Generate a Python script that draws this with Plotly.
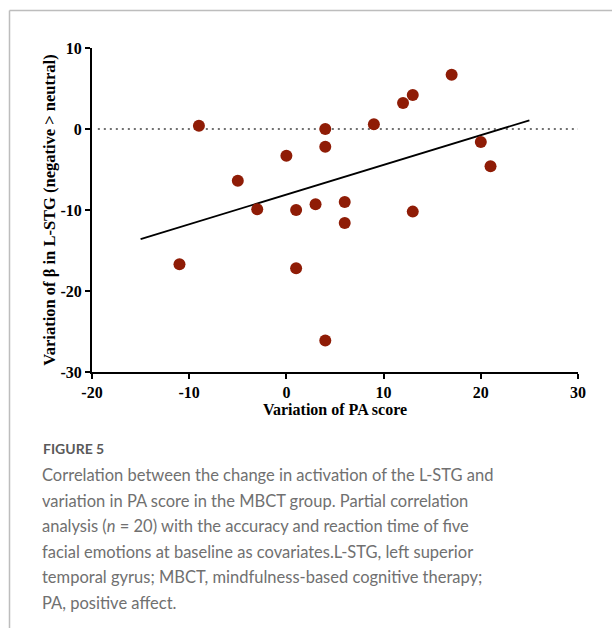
import plotly.graph_objects as go

# Data
pa_change = [-9, -5, -3, 0, 1, 3, 4, 4, 9, 12, 13, 17, 20, 21, 6, 13, 6, -11, 1, 4]
beta_change = [0.4, -6.4, -9.9, -3.3, -10.0, -9.3, 0.0, -2.2, 0.6, 3.2, 4.2, 6.7,
               -1.6, -4.6, -9.0, -10.2, -11.6, -16.7, -17.2, -26.1]
fit_x = [-15, 25]
fit_y = [-13.6, 1.07]
ref_x = [-19.4, 30]
ref_y = [0, 0]
x_ticks = [-20, -10, 0, 10, 20, 30]
x_ticktext = ["-20", "-10", "0", "10", "20", "30"]
y_ticks = [-30, -20, -10, 0, 10]
y_ticktext = ["-30", "-20", "-10", "0", "10"]

caption_head = "FIGURE 5"
caption_lines = [
    "Correlation between the change in activation of the L-STG and",
    "variation in PA score in the MBCT group. Partial correlation",
    "analysis (<i>n</i> = 20) with the accuracy and reaction time of five",
    "facial emotions at baseline as covariates.L-STG, left superior",
    "temporal gyrus; MBCT, mindfulness-based cognitive therapy;",
    "PA, positive affect.",
]

W, H = 612, 628
ML, MR, MT, MB = 92, 34, 48, 256
PW = W - ML - MR
PH = H - MT - MB

def px(xpix):
    return (xpix - ML) / PW

def py(ypix):
    return 1 - (ypix - MT) / PH

fig = go.Figure()
fig.add_trace(go.Scatter(x=ref_x, y=ref_y, mode="lines",
                         line=dict(color="#444444", width=1.5, dash="2px,4px"),
                         hoverinfo="skip", showlegend=False, cliponaxis=False))
fig.add_trace(go.Scatter(x=fit_x, y=fit_y, mode="lines",
                         line=dict(color="black", width=1.8),
                         showlegend=False))
fig.add_trace(go.Scatter(x=pa_change, y=beta_change, mode="markers",
                         marker=dict(size=12, color="rgb(143,28,6)",
                                     line=dict(width=0)),
                         showlegend=False, cliponaxis=False))

serif = "Liberation Serif"
axis_common = dict(showgrid=False, zeroline=False, showline=True,
                   linecolor="black", linewidth=2, ticks="outside",
                   ticklen=5, tickwidth=2, tickcolor="black",
                   tickfont=dict(family=serif, size=16, color="black", weight="bold"))

fig.update_xaxes(range=[-20, 30], tickvals=x_ticks, ticktext=x_ticktext,
                 title=dict(text="<b>Variation of PA score</b>",
                            font=dict(family=serif, size=16, color="black"),
                            standoff=3),
                 **axis_common)
fig.update_yaxes(range=[-30, 10], tickvals=y_ticks, ticktext=y_ticktext,
                 title=dict(text="<b>Variation of β in L-STG (negative &gt; neutral)</b>",
                            font=dict(family=serif, size=16.5, color="black"),
                            standoff=1),
                 **axis_common)

# frame lines (partial border of the figure panel)
fig.add_shape(type="line", xref="paper", yref="paper",
              x0=px(9.5), x1=px(9.5), y0=py(10.5), y1=py(H + 5),
              line=dict(color="#bdbdbd", width=1.5))
fig.add_shape(type="line", xref="paper", yref="paper",
              x0=px(9.5), x1=px(W + 5), y0=py(10.5), y1=py(10.5),
              line=dict(color="#bdbdbd", width=1.5))

sans = "Lato"
fig.add_annotation(xref="paper", yref="paper", x=px(41), y=py(448),
                   xanchor="left", yanchor="middle", showarrow=False,
                   text="<b>" + caption_head + "</b>",
                   font=dict(family=sans, size=14, color="#5a5a5a"))
for i, line in enumerate(caption_lines):
    fig.add_annotation(xref="paper", yref="paper", x=px(40), y=py(475 + i * 25.6),
                       xanchor="left", yanchor="middle", showarrow=False,
                       text=line,
                       font=dict(family=sans, size=16.5, color="#707070"))

fig.update_layout(width=W, height=H,
                  margin=dict(l=ML, r=MR, t=MT, b=MB),
                  paper_bgcolor="white", plot_bgcolor="white")

fig.write_html("out.html")
